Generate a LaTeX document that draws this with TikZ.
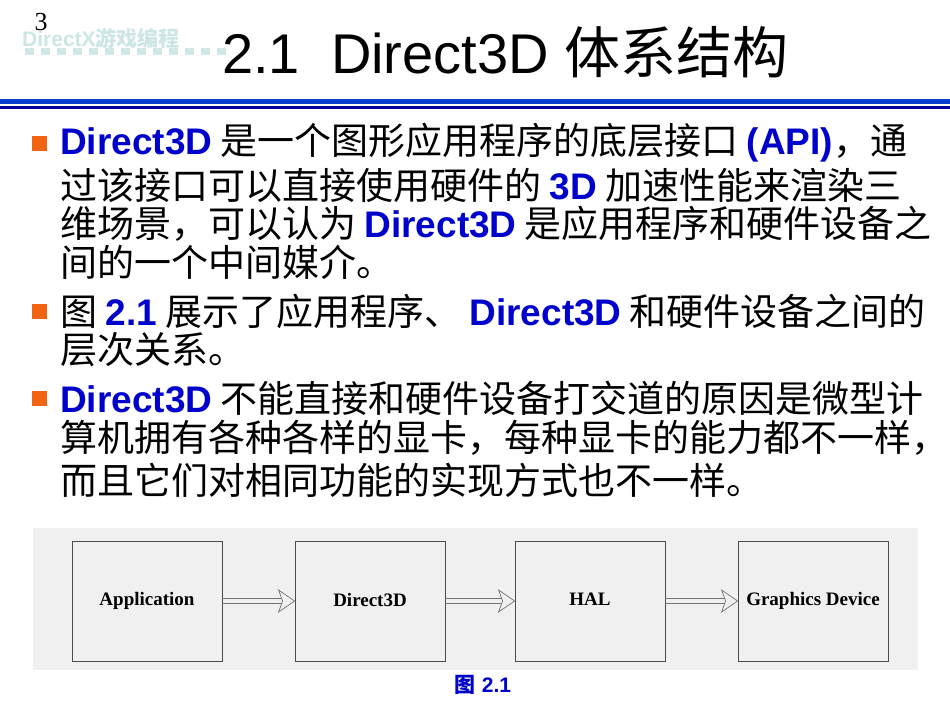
\documentclass[tikz,border=0pt]{standalone}
\usepackage{fontspec}
\setmainfont{Liberation Sans}
\newfontfamily\cjk{Noto Sans CJK SC}
\newfontfamily\serifx{Liberation Serif}
\usetikzlibrary{arrows.meta,calc}
\definecolor{tblue}{RGB}{0,0,204}
\definecolor{borange}{RGB}{240,100,20}
\definecolor{diagbg}{RGB}{240,240,240}
\newcommand{\bl}[1]{{\rmfamily\color{tblue}\bfseries #1}}
\tikzset{
 line/.style={anchor=west,font=\cjk\fontsize{37}{37}\selectfont,inner sep=0pt},
 bsq/.style={fill=borange,minimum size=15pt,inner sep=0pt},
 blockbox/.style={draw=black!70,fill=diagbg,minimum width=150pt,minimum height=120pt,font=\serifx\bfseries\fontsize{19}{19}\selectfont,line width=0.8pt}
}
\newcommand{\dblarrow}[2]{%
 \draw[black!55,line width=0.7pt] ($(#1.east)+(0,-2.5)$) -- ($(#2.west)+(-12,-2.5)$);
 \draw[black!55,line width=0.7pt] ($(#1.east)+(0,2.5)$) -- ($(#2.west)+(-12,2.5)$);
 \draw[black!55,line width=0.7pt,fill=diagbg] ($(#2.west)+(-16,-11)$) -- (#2.west) -- ($(#2.west)+(-16,11)$) -- ($(#2.west)+(-12,0)$) -- cycle;}
\begin{document}
\begin{tikzpicture}[x=1pt,y=-1pt]
\useasboundingbox[fill=white] (0,0) rectangle (950,713);
% logo
\node[anchor=west,font=\bfseries\fontsize{21}{21}\selectfont,text=teal!20,inner sep=0pt] (logo) at (22,38) {DirectX{\cjk 游戏编程}};
\foreach \i in {0,...,12}{\fill[teal!18] (25+\i*16,48) rectangle ++(9,7);}
\node[font=\serifx\fontsize{26}{26}\selectfont,inner sep=0pt] (pg) at (41,22) {3};
\node[anchor=west,font=\fontsize{56}{56}\selectfont,inner sep=0pt] (title) at (222,52) {2.1\ \ Direct3D {\cjk 体系结构}};
\fill[blue!70!cyan!80!black] (0,99) rectangle (950,104);
\fill[blue!60!black] (0,106) rectangle (950,109);
% bullets
\node[bsq] (b1) at (39,143) {};
\node[bsq] (b2) at (39,311) {};
\node[bsq] (b3) at (39,398) {};
\node[line] (l1) at (60,143) {\bl{Direct3D} 是一个图形应用程序的底层接口 \bl{(API)}，通};
\node[line] (l2) at (60,185) {过该接口可以直接使用硬件的 \bl{3D} 加速性能来渲染三};
\node[line] (l3) at (60,224) {维场景，可以认为 \bl{Direct3D} 是应用程序和硬件设备之};
\node[line] (l4) at (60,262) {间的一个中间媒介。};
\node[line] (l5) at (60,311) {图 \bl{2.1} 展示了应用程序、 \bl{Direct3D} 和硬件设备之间的};
\node[line] (l6) at (60,350) {层次关系。};
\node[line] (l7) at (60,398) {\bl{Direct3D} 不能直接和硬件设备打交道的原因是微型计};
\node[line] (l8) at (60,438) {算机拥有各种各样的显卡，每种显卡的能力都不一样，};
\node[line] (l9) at (60,480) {而且它们对相同功能的实现方式也不一样。};
% diagram
\fill[diagbg] (33,528) rectangle (918,670);
\node[blockbox] (app) at (147,601) {Application};
\node[blockbox] (d3d) at (370,601) {\raisebox{3pt}{Direct3D}};
\node[blockbox] (hal) at (590,601) {\raisebox{3pt}{HAL}};
\node[blockbox] (gd) at (813,601) {\raisebox{3pt}{Graphics Device}};
\dblarrow{app}{d3d}
\dblarrow{d3d}{hal}
\dblarrow{hal}{gd}
\node[font=\bfseries\fontsize{21}{21}\selectfont,text=tblue,inner sep=0pt] (cap) at (483,685) {{\cjk 图} 2.1};
\end{tikzpicture}
\end{document}
